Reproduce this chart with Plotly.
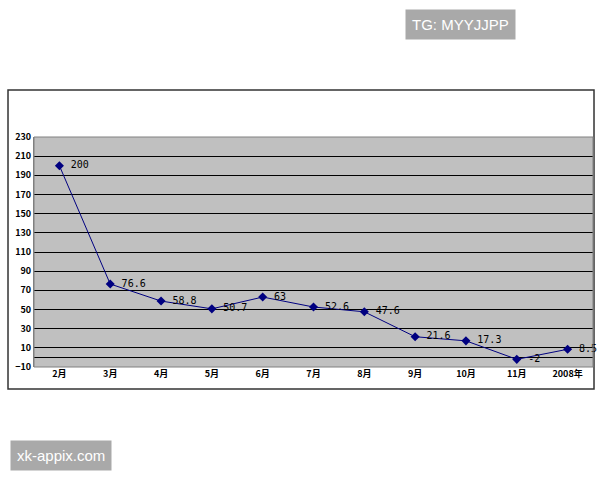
import plotly.graph_objects as go

categories = ["2月", "3月", "4月", "5月", "6月", "7月", "8月", "9月", "10月", "11月", "2008年"]
values = [200, 76.6, 58.8, 50.7, 63, 52.6, 47.6, 21.6, 17.3, -2, 8.5]
value_labels = ["200", "76.6", "58.8", "50.7", "63", "52.6", "47.6", "21.6", "17.3", "-2", "8.5"]
y_ticks = [-10, 10, 30, 50, 70, 90, 110, 130, 150, 170, 190, 210, 230]

fig = go.Figure()
fig.add_trace(go.Scatter(
    x=list(range(len(categories))),
    y=values,
    mode="lines+markers+text",
    text=["\u2009" + t for t in value_labels],
    textposition="middle right",
    textfont=dict(family="DejaVu Sans Mono", size=10, color="black"),
    line=dict(color="#000080", width=1),
    marker=dict(symbol="diamond", size=7, color="#000080"),
    cliponaxis=False,
))

fig.update_layout(
    width=600, height=480,
    margin=dict(l=34, r=7, t=137, b=113),
    paper_bgcolor="white",
    plot_bgcolor="#C0C0C0",
    showlegend=False,
    font=dict(family="Noto Sans CJK SC", size=9, color="black"),
    xaxis=dict(
        range=[-0.5, len(categories) - 0.5],
        tickmode="array",
        tickvals=list(range(len(categories))),
        ticktext=categories,
        showgrid=False,
        zeroline=False,
        showline=False,
        ticks="",
        tickfont=dict(family="Noto Sans CJK SC", size=9, color="black", weight="bold"),
        fixedrange=True,
    ),
    yaxis=dict(
        range=[-10, 230],
        tickmode="array",
        tickvals=y_ticks,
        showgrid=True,
        gridcolor="black",
        gridwidth=1,
        zeroline=True,
        zerolinecolor="black",
        zerolinewidth=1,
        showline=True,
        linecolor="#808080",
        linewidth=1,
        ticks="",
        tickfont=dict(family="Noto Sans CJK SC", size=9, color="black", weight="bold"),
        fixedrange=True,
    ),
)

# outer chart border
fig.add_shape(type="rect", xref="paper", yref="paper",
              x0=-0.0465, x1=1.0018, y0=-0.096, y1=1.204,
              line=dict(color="#333333", width=1.5), fillcolor="rgba(0,0,0,0)", layer="below")
# border of plot area
fig.add_shape(type="rect", xref="paper", yref="paper",
              x0=0, x1=1, y0=0, y1=1,
              line=dict(color="#808080", width=1), fillcolor="rgba(0,0,0,0)")

# watermarks
fig.add_annotation(xref="paper", yref="paper", x=(405 - 34) / 559, y=(367 - 25) / 230,
                   xanchor="left", yanchor="middle", showarrow=False,
                   text="TG: MYYJJPP", font=dict(family="Liberation Sans", size=15, color="white"),
                   bgcolor="#A9A9A9", borderpad=6)
fig.add_annotation(xref="paper", yref="paper", x=(10 - 34) / 559, y=(367 - 455) / 230,
                   xanchor="left", yanchor="middle", showarrow=False,
                   text="xk-appix.com", font=dict(family="Liberation Sans", size=15, color="white"),
                   bgcolor="#A9A9A9", borderpad=6)

fig.write_html("out.html", config={"displayModeBar": False},
               post_script="document.body.style.margin='0';document.body.style.overflow='hidden';")
